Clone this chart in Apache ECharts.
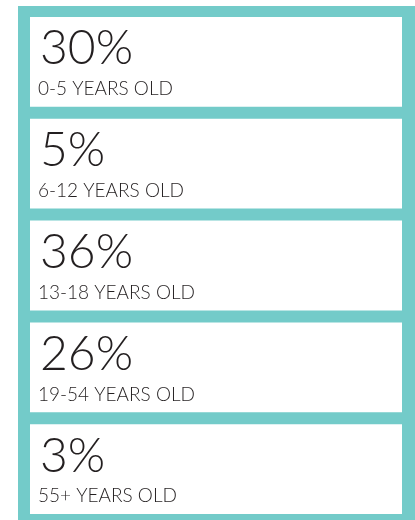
<!DOCTYPE html>
<html lang="en">
<head>
    <meta charset="UTF-8">
    <title>Age groups</title>
    <style>
        html, body {
            margin: 0;
            padding: 0;
            background: #ffffff;
        }
        #chart {
            width: 415px;
            height: 520px;
        }
    </style>
    <script src="https://cdn.jsdelivr.net/npm/echarts@6/dist/echarts.min.js"></script>
</head>
<body>
    <div id="chart"></div>
    <script>
        // data
        var ageGroups = ['0-5 YEARS OLD', '6-12 YEARS OLD', '13-18 YEARS OLD', '19-54 YEARS OLD', '55+ YEARS OLD'];
        var shares = [30, 5, 36, 26, 3];

        var teal = '#73cbc9';
        var ink = '#231f20';
        var gap = 12;

        var chart = echarts.init(document.getElementById('chart'));

        // one white card per age group, placed on the category axis
        function renderBox(params, api) {
            var idx = api.value(1);
            var cs = params.coordSys;
            var cy = api.coord([0, idx])[1];
            var band = api.size([0, 1])[1];
            var h = band - gap;
            var top = cy - h / 2;
            return {
                type: 'group',
                children: [
                    {
                        type: 'rect',
                        shape: { x: cs.x, y: top, width: cs.width, height: h },
                        style: { fill: '#ffffff' }
                    },
                    {
                        type: 'text',
                        style: {
                            text: api.value(0) + '%',
                            x: cs.x + 10,
                            y: top + 32,
                            verticalAlign: 'middle',
                            fontFamily: 'Lato',
                            fontWeight: 300,
                            fontSize: 48,
                            fill: ink
                        }
                    },
                    {
                        type: 'text',
                        style: {
                            text: ageGroups[idx],
                            x: cs.x + 8,
                            y: top + 72,
                            verticalAlign: 'middle',
                            fontFamily: 'Lato',
                            fontWeight: 300,
                            fontSize: 19,
                            fill: ink
                        }
                    }
                ]
            };
        }

        var option = {
            animation: false,
            graphic: [
                {
                    type: 'rect',
                    z: -10,
                    shape: { x: 18, y: 6, width: 397, height: 520 },
                    style: { fill: teal }
                }
            ],
            grid: {
                left: 30,
                right: 13,
                top: 11,
                height: 511
            },
            xAxis: {
                type: 'value',
                min: 0,
                max: 100,
                show: false
            },
            yAxis: {
                type: 'category',
                data: ageGroups,
                inverse: true,
                show: false
            },
            series: [
                {
                    type: 'custom',
                    renderItem: renderBox,
                    encode: { x: 0, y: 1 },
                    data: shares.map(function (s, i) { return [s, i]; })
                }
            ]
        };
        chart.setOption(option);
    </script>
</body>
</html>
